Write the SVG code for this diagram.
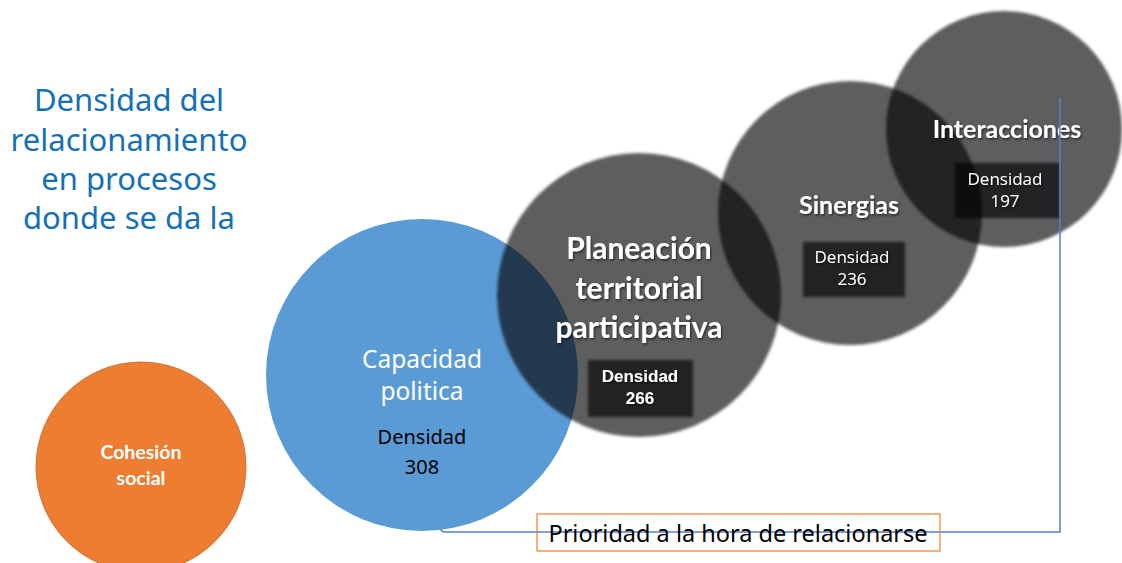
<svg xmlns="http://www.w3.org/2000/svg" width="1122" height="563" viewBox="0 0 1122 563">
<defs>
<filter id="soft" x="-10%" y="-10%" width="120%" height="120%"><feGaussianBlur stdDeviation="1.6"/></filter>
<filter id="shadow" x="-10%" y="-20%" width="120%" height="150%"><feDropShadow dx="1" dy="1.5" stdDeviation="1.2" flood-color="#000" flood-opacity="0.6"/></filter>
<style>
.gray{fill:#000;fill-opacity:0.63;filter:url(#soft)}
.box{fill:#000;fill-opacity:0.63;filter:url(#soft)}
.wb{fill:#fff;font-family:Lato,"Open Sans",sans-serif;font-weight:bold;text-anchor:middle;filter:url(#shadow)}
.wa{fill:#fff;font-family:"Liberation Sans",Arial,sans-serif;font-weight:bold;font-size:17px;text-anchor:middle;filter:url(#shadow)}
.wr{fill:#fff;font-family:"Open Sans","Noto Sans",sans-serif;text-anchor:middle;filter:url(#shadow)}
.title{fill:#1570b6;font-family:"Noto Sans","DejaVu Sans",sans-serif;font-size:31px;text-anchor:middle}
.conn{fill:none;stroke:#5a7fc8;stroke-width:1.5}
</style>
</defs>
<rect width="1122" height="563" fill="#fff"/>
<g id="title">
<text class="title" x="129" y="111">Densidad del</text>
<text class="title" x="129" y="151">relacionamiento</text>
<text class="title" x="129" y="190">en procesos</text>
<text class="title" x="129" y="229">donde se da la</text>
</g>
<g id="cohesion">
<circle cx="141" cy="467" r="105" fill="#ed7d31" stroke="#c0632a" stroke-width="0.8"/>
<text x="141" y="459" fill="#fff" font-family="Lato,'Open Sans',sans-serif" font-weight="bold" font-size="19.5" text-anchor="middle">Cohesión</text>
<text x="141" y="485" fill="#fff" font-family="Lato,'Open Sans',sans-serif" font-weight="bold" font-size="19.5" text-anchor="middle">social</text>
</g>
<g id="capacidad">
<circle cx="422" cy="375" r="156" fill="#5b9bd5"/>
<text x="422" y="368" fill="#fff" font-family="'Noto Sans',sans-serif" font-size="24.5" text-anchor="middle">Capacidad</text>
<text x="422" y="400" fill="#fff" font-family="'Noto Sans',sans-serif" font-size="24.5" text-anchor="middle">politica</text>
<text x="422" y="444" fill="#000" font-family="'Noto Sans',sans-serif" font-size="20" text-anchor="middle">Densidad</text>
<text x="422" y="474" fill="#000" font-family="'Noto Sans',sans-serif" font-size="20" text-anchor="middle">308</text>
</g>
<g id="planeacion">
<circle class="gray" cx="639" cy="295" r="142"/>
<rect class="box" x="588" y="360" width="105" height="57"/>
<text class="wb" x="639" y="259" font-size="30">Planeación</text>
<text class="wb" x="639" y="299" font-size="30">territorial</text>
<text class="wb" x="639" y="338" font-size="30">participativa</text>
<text class="wa" x="640" y="382">Densidad</text>
<text class="wa" x="640" y="404">266</text>
</g>
<g id="sinergias">
<circle class="gray" cx="850" cy="213" r="132"/>
<rect class="box" x="803" y="242" width="102" height="55"/>
<text class="wb" x="849" y="214" font-size="25">Sinergias</text>
<text class="wr" x="852" y="263" font-size="17">Densidad</text>
<text class="wr" x="852" y="285" font-size="17">236</text>
</g>
<g id="interacciones">
<circle class="gray" cx="1004" cy="129" r="118"/>
<rect class="box" x="955" y="163" width="105" height="55"/>
<text class="wb" x="1007" y="138" font-size="25">Interacciones</text>
<text class="wr" x="1005" y="185" font-size="17">Densidad</text>
<text class="wr" x="1005" y="207" font-size="17">197</text>
</g>
<g id="connectors">
<path class="conn" d="M441,529 Q441,532 445,532 L1060,532 L1060,98"/>
</g>
<g id="prioridad">
<rect x="537" y="514" width="403" height="37" fill="none" stroke="#ed7d31" stroke-width="1.2"/>
<text x="738" y="542" fill="#000" font-family="'Noto Sans',sans-serif" font-size="23.5" text-anchor="middle">Prioridad a la hora de relacionarse</text>
</g>
</svg>
